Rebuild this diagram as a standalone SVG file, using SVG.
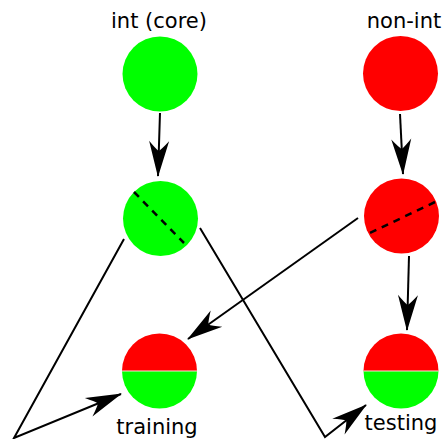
<svg xmlns="http://www.w3.org/2000/svg" width="444" height="439" viewBox="0 0 444 439">
<style>
.lbl{font-family:"DejaVu Sans",sans-serif;font-size:21px;fill:#000;text-anchor:middle}
.g{fill:#00ff00}
.r{fill:#ff0000}
.c{fill:none;stroke:#000;stroke-width:2}
.d{fill:none;stroke:#000;stroke-width:2.5;stroke-dasharray:7,6}
</style>
<defs>
<marker id="ah" markerUnits="userSpaceOnUse" markerWidth="40" markerHeight="30" viewBox="-36 -12 40 24" refX="0" refY="0" orient="auto">
<path d="M1,0 L-35,-10 Q-27,-3 -25,0 Q-27,3 -35,10 Z" fill="#000"/>
</marker>
</defs>
<rect width="444" height="439" fill="#fff"/>
<g id="connectors">
<line class="c" x1="160" y1="113" x2="158" y2="176" marker-end="url(#ah)"/>
<line class="c" x1="400" y1="114" x2="403" y2="174" marker-end="url(#ah)"/>
<line class="c" x1="409" y1="256" x2="407" y2="330" marker-end="url(#ah)"/>
<line class="c" x1="358" y1="218" x2="188" y2="339" marker-end="url(#ah)"/>
<polyline class="c" points="124,239 14,438 121,394" marker-end="url(#ah)"/>
<polyline class="c" points="200,228 325,437 366,405" marker-end="url(#ah)"/>
</g>
<g id="int-core">
<text class="lbl" x="159" y="28">int (core)</text>
<circle class="g" cx="160" cy="74" r="37.5"/>
</g>
<g id="non-int">
<text class="lbl" x="404" y="28">non-int</text>
<circle class="r" cx="400.5" cy="73.5" r="37.5"/>
</g>
<g id="int-split">
<circle class="g" cx="160.5" cy="218.5" r="37.5"/>
<line class="d" x1="134" y1="192" x2="184" y2="243"/>
</g>
<g id="nonint-split">
<circle class="r" cx="401.5" cy="216" r="37.5"/>
<line class="d" x1="435" y1="202" x2="370" y2="233"/>
</g>
<g id="training">
<path class="r" d="M122,371 A37.5,37.5 0 0 1 197,371 Z"/>
<path class="g" d="M122,371 A37.5,37.5 0 0 0 197,371 Z"/>
<line x1="122" y1="371" x2="197" y2="371" stroke="#ffdddd" stroke-width="1"/>
<text class="lbl" x="157" y="434">training</text>
</g>
<g id="testing">
<path class="r" d="M363.5,371 A37.5,37.5 0 0 1 438.5,371 Z"/>
<path class="g" d="M363.5,371 A37.5,37.5 0 0 0 438.5,371 Z"/>
<line x1="363.5" y1="371" x2="438.5" y2="371" stroke="#ffdddd" stroke-width="1"/>
<text class="lbl" x="401" y="430">testing</text>
</g>
</svg>
